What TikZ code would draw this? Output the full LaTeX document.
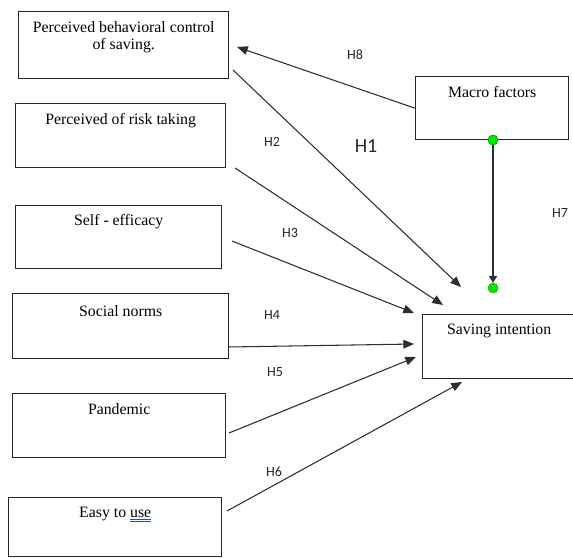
\documentclass[tikz,border=0pt]{standalone}
\usepackage{fontspec}
\setmainfont{Liberation Serif}
\newfontfamily\hypfont{Carlito}
\usepackage{xcolor}
\usetikzlibrary{arrows.meta,positioning}
\definecolor{dotgreen}{RGB}{0,230,0}
\definecolor{linegray}{RGB}{45,45,45}
\definecolor{spellblue}{RGB}{40,70,200}

\begin{document}
\begin{tikzpicture}[x=0.03cm,y=-0.03cm,
  factor/.style={draw=black!85,line width=1.2pt,inner sep=0pt},
  boxtext/.style={font=\fontsize{13.5}{14.5}\selectfont,align=center,inner sep=0pt},
  hyp/.style={font=\hypfont\fontsize{12}{13}\selectfont,text=black!85},
  link/.style={-{Triangle[length=3.2mm,width=2.6mm]},linegray,line width=0.9pt},
  gdot/.style={circle,fill=dotgreen,draw=dotgreen!60!black,line width=0.3pt,inner sep=0pt,minimum size=3mm}]
\useasboundingbox (0,0) rectangle (573,557);
% boxes on the left
\node[factor,minimum width=6.3cm,minimum height=2.01cm,anchor=north west] (pbc) at (18,11) {};
\node[factor,minimum width=6.3cm,minimum height=1.92cm,anchor=north west] (risk) at (15,103) {};
\node[factor,minimum width=6.18cm,minimum height=1.89cm,anchor=north west] (self) at (15,205) {};
\node[factor,minimum width=6.48cm,minimum height=1.95cm,anchor=north west] (norms) at (12,293) {};
\node[factor,minimum width=6.39cm,minimum height=1.92cm,anchor=north west] (pand) at (12,393) {};
\node[factor,minimum width=6.39cm,minimum height=1.77cm,anchor=north west] (easy) at (8,497) {};
% boxes on the right
\node[factor,minimum width=4.59cm,minimum height=1.89cm,anchor=north west] (macro) at (415,76) {};
\node[factor,minimum width=4.59cm,minimum height=1.92cm,anchor=north west] (save) at (422,314) {};
% texts
\node[boxtext,below=0.31cm of pbc.north] (tpbc) {Perceived behavioral control\\of saving.};
\node[boxtext,below=0.3cm of risk.north] (trisk) {Perceived of risk taking};
\node[boxtext,below=0.27cm of self.north] (tself) {Self - efficacy};
\node[boxtext,below=0.36cm of norms.north] (tnorms) {Social norms};
\node[boxtext,below=0.3cm of pand.north] (tpand) {Pandemic};
\node[boxtext,below=0.3cm of easy.north] (teasy) {Easy to \rlap{\color{spellblue}\rule[-2pt]{1.33em}{0.6pt}\kern-1.33em\rule[-3.6pt]{1.33em}{0.6pt}}use};
\node[boxtext,below=0.3cm of macro.north] (tmacro) {Macro factors};
\node[boxtext,below=0.3cm of save.north] (tsave) {Saving intention};
% free ends of the arrows
\coordinate (h8e) at (237,47);
\coordinate (h1s) at (233,70);   \coordinate (h1e) at (461,287);
\coordinate (h2s) at (235,168);  \coordinate (h2e) at (443,305);
\coordinate (h3s) at (232,241);  \coordinate (h3e) at (414,313);
\coordinate (h4s) at (228,347);  \coordinate (h4e) at (414,344);
\coordinate (h5s) at (229,433);  \coordinate (h5e) at (416,357);
\coordinate (h6s) at (227,511);  \coordinate (h6e) at (462,382);
% arrows
\draw[link] (macro.west) -- (h8e);
\draw[link] (h1s) -- (h1e);
\draw[link] (h2s) -- (h2e);
\draw[link] (h3s) -- (h3e);
\draw[link] (h4s) -- (h4e);
\draw[link] (h5s) -- (h5e);
\draw[link] (h6s) -- (h6e);
\node[gdot] (d1) at (493,140) {};
\node[gdot] (d2) at (493,288) {};
\draw[link,-{Triangle[length=2mm,width=2.4mm]}] (d1.center) -- (d2.north);
\node[gdot] at (d1) {};
% hypothesis labels
\node[hyp] (l8) at (355,55) {H8};
\node[hyp,font=\hypfont\fontsize{17}{18}\selectfont] (l1) at (366,146) {H1};
\node[hyp] (l2) at (272,142) {H2};
\node[hyp] (l3) at (290,233) {H3};
\node[hyp] (l4) at (272,315) {H4};
\node[hyp] (l5) at (275,372) {H5};
\node[hyp] (l6) at (274,472) {H6};
\node[hyp] (l7) at (560,213) {H7};
\end{tikzpicture}
\end{document}
